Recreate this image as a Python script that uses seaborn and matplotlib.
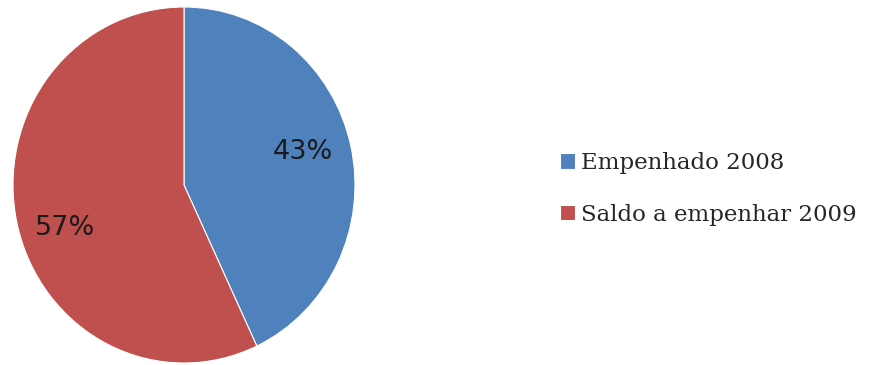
import matplotlib
matplotlib.use("Agg")
import matplotlib.pyplot as plt
import seaborn as sns

categories = ["Empenhado 2008", "Saldo a empenhar 2009"]
shares = [43, 57]
colors = ["#4F81BD", "#C0504D"]

sns.set_theme(style="white")
plt.rcParams["font.family"] = ["DejaVu Sans"]

fig = plt.figure(figsize=(8.78, 3.65), dpi=100)
fig.patch.set_facecolor("white")
ax = fig.add_axes([13 / 878, 1 - 363 / 365, 342 / 878, 356 / 365])

wedges, texts, autotexts = ax.pie(
    shares,
    colors=colors,
    startangle=90,
    counterclock=False,
    autopct="%1.0f%%",
    pctdistance=0.71,
    wedgeprops=dict(edgecolor="white", linewidth=0.8),
    textprops=dict(fontsize=19.5, color="#1a1a1a"),
    frame=False,
)
# spread the percentage labels a little further from the horizontal
for t in autotexts:
    x, y = t.get_position()
    t.set_position((x, y * 1.38 - 0.03))

ax.set_aspect("auto")
ax.set_xlim(-1, 1)
ax.set_ylim(-1, 1)
ax.axis("off")

leg = fig.legend(
    wedges,
    categories,
    loc="center left",
    bbox_to_anchor=(539 / 878, 1 - 189 / 365),
    frameon=False,
    handlelength=0.65,
    handleheight=0.65,
    handletextpad=0.3,
    labelspacing=1.3,
    prop=dict(family="DejaVu Serif", size=16.5),
)

fig.savefig("out.png", dpi=100, facecolor="white")
